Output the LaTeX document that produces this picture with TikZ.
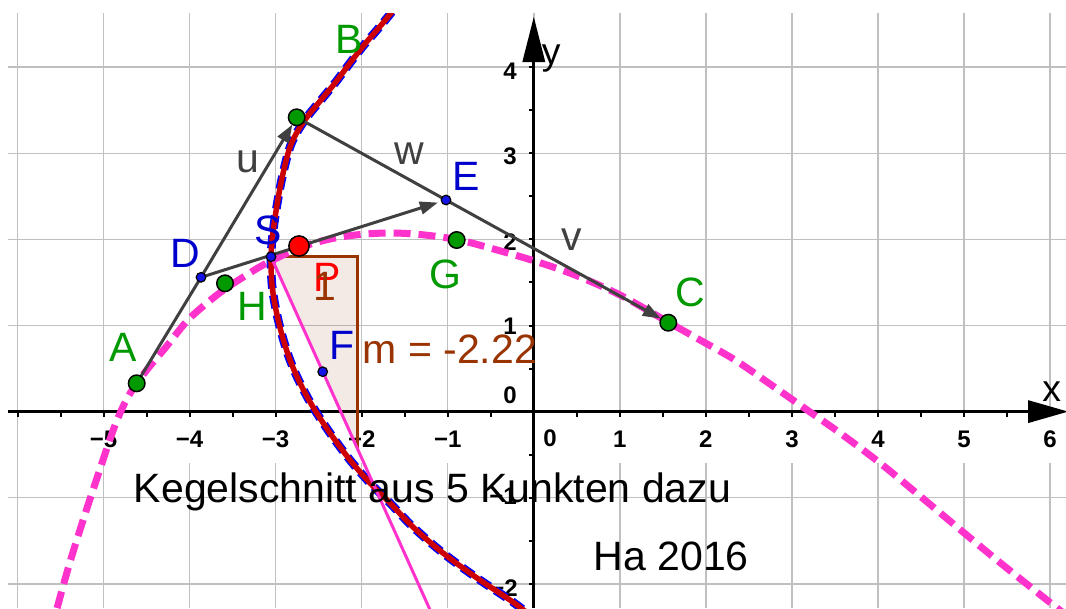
\documentclass[tikz,border=0pt]{standalone}
\usepackage{fontspec}
\setmainfont{Liberation Sans}
\usetikzlibrary{arrows.meta}
\definecolor{ggreen}{RGB}{0,153,0}
\definecolor{gbluelbl}{RGB}{0,0,204}
\definecolor{gbluept}{RGB}{20,20,230}
\definecolor{gred}{RGB}{255,0,0}
\definecolor{dred}{RGB}{204,0,0}
\definecolor{lblue}{RGB}{0,0,255}
\definecolor{gpink}{RGB}{255,51,204}
\definecolor{ggray}{RGB}{64,64,64}
\definecolor{gbrown}{RGB}{153,51,0}
\definecolor{gridc}{RGB}{192,192,192}
\begin{document}
\begin{tikzpicture}[x=0.75pt,y=-0.75pt,
  gridline/.style={draw=gridc,line width=1.1pt},
  axisline/.style={draw=black,line width=2pt},
  tickmark/.style={draw=black,line width=1.5pt},
  ticknum/.style={font=\fontsize{18}{20}\selectfont\bfseries,inner sep=0pt,text=black},
  lbl/.style={font=\fontsize{30.75}{36}\selectfont,inner sep=0pt},
  axlbl/.style={font=\fontsize{28}{32}\selectfont,inner sep=0pt,text=black},
  gpt/.style={circle,draw=black,line width=1.1pt,fill=ggreen,minimum size=12.4pt,inner sep=0pt},
  bpt/.style={circle,draw=black,line width=0.9pt,fill=gbluept,minimum size=7.2pt,inner sep=0pt},
  rpt/.style={circle,draw=black,line width=1.1pt,fill=gred,minimum size=15.2pt,inner sep=0pt},
  seg/.style={draw=ggray,line width=2.25pt},
  vec/.style={draw=ggray,line width=2.25pt,-{Triangle[length=13.5pt,width=9.5pt]},shorten >=6.4pt},
  pinkconic/.style={draw=gpink,line width=5.25pt,dash pattern=on 12.75pt off 6pt},
  bluelocus/.style={draw=lblue,line width=6.4pt,dash pattern=on 9.75pt off 5.25pt},
  redcurve/.style={draw=dred,line width=4.1pt},
  tangentline/.style={draw=gpink,line width=2.25pt},
  slopetri/.style={fill=gbrown,fill opacity=0.1},
  slopeedge/.style={draw=gbrown,line width=2.25pt}
]
\useasboundingbox (0,0) rectangle (1066,608);
\fill[white] (0,0) rectangle (1066,608);

% named points
\coordinate (A) at (136.7,383.3);
\coordinate (B) at (296.7,117.3);
\coordinate (C) at (668.3,322.7);
\coordinate (D) at (201,277.3);
\coordinate (E) at (446,200);
\coordinate (F) at (322.7,371.7);
\coordinate (G) at (456.7,240);
\coordinate (H) at (225,283.3);
\coordinate (S) at (271,256.7);
\coordinate (P) at (299,246);
\coordinate (T1) at (357.05,256.7);
\coordinate (T2) at (357.05,447.8);
\coordinate (TE) at (434.6,620);

\begin{scope}
\clip (8,13) rectangle (1066,608);
% grid
\foreach \k in {-6,...,6} {\draw[gridline] ({533.8+86.05*\k},13) -- ({533.8+86.05*\k},608);}
\foreach \k in {-2,...,4} {\draw[gridline] (8,{411.6-86.1*\k}) -- (1066,{411.6-86.1*\k});}
\fill[white] (25,414) rectangle (1066,463);

% axes
\coordinate (XL) at (8,411.6);
\coordinate (XR) at (1030,411.6);
\coordinate (YB) at (533.8,608);
\coordinate (YT) at (533.8,60);
\draw[axisline] (XL) -- (XR);
\draw[axisline] (YB) -- (YT);
\fill[black] (1068,411.6) -- (1028,400.1) -- (1028,423.1) -- cycle;
\fill[black] (533.8,17) -- (522.3,62) -- (545.3,62) -- cycle;
\foreach \k in {-12,...,-1,1,2,...,11} {\draw[tickmark] ({533.8+43.025*\k},411.6) -- ++(0,5);}
\foreach \k in {-4,...,-1,1,2,...,8} {\draw[tickmark] (533.8,{411.6-43.05*\k}) -- ++(-5,0);}

% axis numbers
\foreach \k/\t in {-5/−5,-4/−4,-3/−3,-2/−2,-1/−1,1/1,2/2,3/3,4/4,5/5,6/6}
  {\node[ticknum] (xn\k) at ({533.8+86.05*\k},439) {\t};}
\node[ticknum] (xn0) at (550,438.3) {0};
\node[ticknum,anchor=east] (yn4) at (517,70.8) {4};
\node[ticknum,anchor=east] (yn3) at (517,156.7) {3};
\node[ticknum,anchor=east] (yn2) at (517,242.5) {2};
\node[ticknum,anchor=east] (yn1) at (517,325.8) {1};
\node[ticknum,anchor=east] (yn0) at (517,395) {0};
\node[ticknum,anchor=east] (ynm1) at (517,496.7) {−1};
\node[ticknum,anchor=east] (ynm2) at (518,588.3) {−2};
\node[axlbl,anchor=base] (xlab) at (1051.7,401.7) {x};
\node[axlbl,anchor=base] (ylab) at (551.3,64) {y};

% slope triangle
\fill[slopetri] (S) -- (T1) -- (T2) -- cycle;
\draw[slopeedge] (S) -- (T1) -- (T2);

% conic through five points
\draw[pinkconic] plot[smooth,tension=0.55] coordinates {
 (50,632) (56,612) (62,590) (70,562) (79,533) (88,505) (97,478) (106,451)
 (114,428) (121,411) (128,397) (136.7,383.3) (150,366) (166,347) (187,321)
 (207,303) (225,289) (245,276) (265,264) (299,248) (330,239) (360,234.5)
 (390,233) (420,234.5) (456.7,239.5) (490,248) (533,260.5) (575,275)
 (620,295) (668,322) (700,340) (735,360) (770,384) (810,412) (840,433)
 (880,463) (920,496) (963,532) (1003,565) (1057,608) (1070,618)};

% locus curve (blue dashed) and red curve
\def\redpts{(404,-4) (391,13) (377,30) (364,45) (350,63) (335,83) (321,100)
 (307,117) (296,134) (289,150) (282,178) (277,205) (273,232) (271,257)
 (272,285) (276,310) (282,335) (290,360) (300,383) (313,407) (330,433)
 (350,460) (370,483) (390,503) (413,527) (443,553) (477,578) (510,600) (526,612)}
\draw[bluelocus] plot[smooth,tension=0.55] coordinates {\redpts};
\draw[redcurve] plot[smooth,tension=0.55] coordinates {\redpts};

% tangent ray at S
\draw[tangentline] (S) -- (TE);

% segments and vectors
\draw[seg] (A) -- (D);
\draw[vec] (D) -- (B);
\draw[seg] (B) -- (E);
\draw[vec] (E) -- (C);
\draw[vec] (D) -- (E);
\end{scope}

% points
\node[gpt] (pA) at (A) {};
\node[gpt] (pB) at (B) {};
\node[gpt] (pC) at (C) {};
\node[gpt] (pG) at (G) {};
\node[gpt] (pH) at (H) {};
\node[bpt] (pD) at (D) {};
\node[bpt] (pE) at (E) {};
\node[bpt] (pF) at (F) {};
\node[bpt] (pS) at (S) {};
\node[rpt] (pP) at (P) {};

% labels
\node[lbl,text=ggreen] (lA) at (123.3,347.5) {A};
\node[lbl,text=ggreen] (lB) at (348.7,39.2) {B};
\node[lbl,text=ggreen] (lC) at (690,292) {C};
\node[lbl,text=gbluelbl] (lD) at (185.8,253.3) {D};
\node[lbl,text=gbluelbl] (lE) at (466.2,176.7) {E};
\node[lbl,text=gbluelbl] (lF) at (342.2,345.8) {F};
\node[lbl,text=ggreen] (lG) at (445.5,274.2) {G};
\node[lbl,text=ggreen] (lH) at (252,306.7) {H};
\node[lbl,text=gbluelbl] (lS) at (268.3,230) {S};
\node[lbl,text=gred] (lP) at (327.2,277.5) {P};
\node[lbl,text=gbrown] (l1) at (324.5,286.7) {1};
\node[lbl,text=ggray] (lu) at (248.3,161.7) {u};
\node[lbl,text=ggray] (lw) at (409.2,153.3) {w};
\node[lbl,text=ggray] (lv) at (571.7,240) {v};
\node[lbl,text=gbrown,anchor=base west] (lm) at (362.3,363) {m = -2.22};
\node[lbl,text=black,anchor=base west] (txt1) at (133.7,502) {Kegelschnitt aus 5 Kunkten dazu};
\node[lbl,text=black,anchor=base west] (txt2) at (593.4,570) {Ha 2016};
\end{tikzpicture}
\end{document}
